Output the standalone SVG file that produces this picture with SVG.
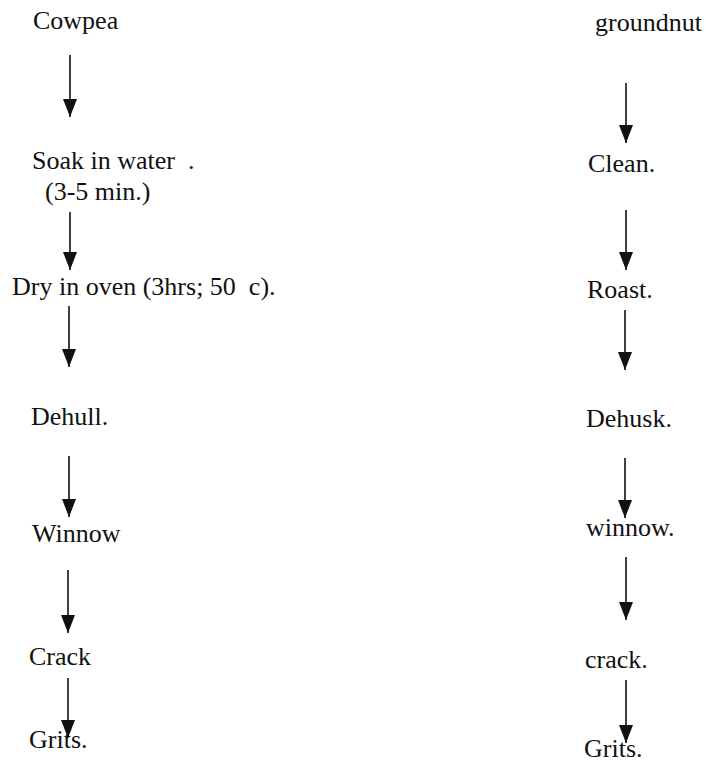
<svg xmlns="http://www.w3.org/2000/svg" width="706" height="763" viewBox="0 0 706 763">
<defs>
<style>
.t text { font-family: 'Liberation Serif', 'Times New Roman', Times, serif; font-size: 26px; fill: #111; white-space: pre; }
.c line { stroke: #111; stroke-width: 1.6; marker-end: url(#ah); }
</style>
<marker id="ah" viewBox="0 0 18 14" refX="18" refY="7" markerWidth="18" markerHeight="14" markerUnits="userSpaceOnUse" orient="auto">
<path d="M0,0 L18,7 L0,14 z" fill="#111"/>
</marker>
</defs>
<rect width="706" height="763" fill="#fff"/>
<g class="t">
<g id="cowpea"><text x="33" y="29">Cowpea</text></g>
<g id="soak"><text x="32" y="169">Soak in water  .</text><text x="45" y="200">(3-5 min.)</text></g>
<g id="dry"><text x="12" y="295">Dry in oven (3hrs; 50  c).</text></g>
<g id="dehull"><text x="31" y="425">Dehull.</text></g>
<g id="winnow-l"><text x="32" y="542">Winnow</text></g>
<g id="crack-l"><text x="29" y="665">Crack</text></g>
<g id="grits-l"><text x="29" y="748">Grits.</text></g>
<g id="groundnut"><text x="595" y="31">groundnut</text></g>
<g id="clean"><text x="588" y="172">Clean.</text></g>
<g id="roast"><text x="587" y="298">Roast.</text></g>
<g id="dehusk"><text x="586" y="427">Dehusk.</text></g>
<g id="winnow-r"><text x="586" y="536">winnow.</text></g>
<g id="crack-r"><text x="585" y="668">crack.</text></g>
<g id="grits-r"><text x="584" y="757">Grits.</text></g>
</g>
<g id="connectors" class="c">
<line x1="70" y1="55" x2="70" y2="117"/>
<line x1="70" y1="212" x2="70" y2="270"/>
<line x1="69" y1="306" x2="69" y2="367"/>
<line x1="69" y1="456" x2="69" y2="517"/>
<line x1="68" y1="570" x2="68" y2="633"/>
<line x1="68" y1="678" x2="68" y2="738"/>
<line x1="626" y1="83" x2="626" y2="143"/>
<line x1="626" y1="210" x2="626" y2="270"/>
<line x1="625" y1="310" x2="625" y2="370"/>
<line x1="625" y1="458" x2="625" y2="518"/>
<line x1="626" y1="557" x2="626" y2="620"/>
<line x1="626" y1="680" x2="626" y2="743"/>
</g>
</svg>
